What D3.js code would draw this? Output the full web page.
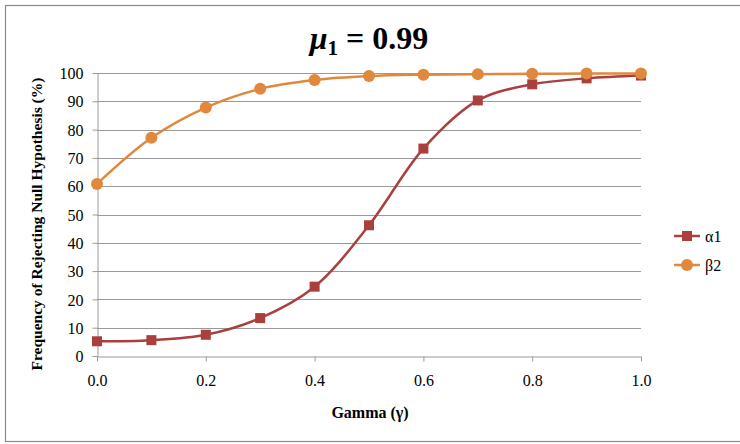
<!DOCTYPE html>
<html>
<head>
<meta charset="utf-8">
<script src="https://cdn.jsdelivr.net/npm/d3@7"></script>
<style>
  body { margin: 0; background: #fff; }
  svg { display: block; }
  svg text { font-family: 'Liberation Serif', 'DejaVu Serif', serif; }
</style>
</head>
<body>
<div id="chart"></div>
<script>
// data
var gamma = [ 0.0, 0.1, 0.2, 0.3, 0.4, 0.5, 0.6, 0.7, 0.8, 0.9, 1.0 ];
var alpha1 = [ 5.2, 5.6, 7.5, 13.4, 24.5, 46.2, 73.3, 90.3, 96.0, 98.1, 99.1 ];
var beta2 = [ 60.8, 77.1, 87.8, 94.4, 97.5, 98.9, 99.4, 99.6, 99.7, 99.8, 99.8 ];
var xTicks = [ 0, 0.2, 0.4, 0.6, 0.8, 1.0 ];
var yTicks = [ 0, 10, 20, 30, 40, 50, 60, 70, 80, 90, 100 ];

var W = 740, H = 444;
var svg = d3.select( '#chart' ).append( 'svg' )
	.attr( 'width', W )
	.attr( 'height', H );

// outer frame
svg.append( 'rect' )
	.attr( 'x', 5.5 ).attr( 'y', 5.5 )
	.attr( 'width', W + 10 ).attr( 'height', H - 8 )
	.attr( 'fill', 'none' )
	.attr( 'stroke', '#8c8c8c' )
	.attr( 'stroke-width', 1.2 );

var xScale = d3.scaleLinear().domain( [ 0, 1 ] ).range( [ 97, 641 ] );
var yScale = d3.scaleLinear().domain( [ 0, 100 ] ).range( [ 356, 73 ] );

// gridlines
svg.append( 'g' )
	.selectAll( 'line' )
	.data( yTicks.slice( 1 ) )
	.enter()
	.append( 'line' )
	.attr( 'x1', xScale( 0 ) ).attr( 'x2', xScale( 1 ) )
	.attr( 'y1', d => Math.round( yScale( d ) ) + 0.5 )
	.attr( 'y2', d => Math.round( yScale( d ) ) + 0.5 )
	.attr( 'stroke', '#9a9a9a' )
	.attr( 'stroke-width', 1 );

// axes
var xAxis = d3.axisBottom( xScale )
	.tickValues( xTicks )
	.tickSize( 5 )
	.tickSizeOuter( 0 )
	.tickPadding( 13 )
	.tickFormat( d3.format( '.1f' ) );

var yAxis = d3.axisLeft( yScale )
	.tickValues( yTicks )
	.tickSize( 5 )
	.tickSizeOuter( 0 )
	.tickPadding( 9 );

var gx = svg.append( 'g' )
	.attr( 'transform', 'translate(0,' + ( Math.round( yScale( 0 ) ) + 0.5 ) + ')' )
	.call( xAxis );

var gy = svg.append( 'g' )
	.attr( 'transform', 'translate(' + ( Math.round( xScale( 0 ) ) + 0.5 ) + ',0)' )
	.call( yAxis );

[ gx, gy ].forEach( function( g ) {
	g.attr( 'font-family', null );
	g.select( '.domain' ).attr( 'stroke', '#9a9a9a' );
	g.selectAll( '.tick line' ).attr( 'stroke', '#9a9a9a' );
	g.selectAll( '.tick text' )
		.attr( 'fill', '#000' )
		.attr( 'font-size', '16px' );
} );
gy.selectAll( '.tick text' ).attr( 'dy', '0.35em' );

// series
var series = [
	{ name: 'α1', values: alpha1, color: '#a9403e', shape: 'square' },
	{ name: 'β2', values: beta2, color: '#e0883c', shape: 'circle' }
];

var line = d3.line()
	.x( ( d, i ) => xScale( gamma[ i ] ) )
	.y( d => yScale( d ) )
	.curve( d3.curveCatmullRom.alpha( 0.5 ) );

series.forEach( function( s ) {
	svg.append( 'path' )
		.attr( 'd', line( s.values ) )
		.attr( 'fill', 'none' )
		.attr( 'stroke', s.color )
		.attr( 'stroke-width', 2.5 );

	if ( s.shape === 'square' ) {
		svg.append( 'g' ).selectAll( 'rect' )
			.data( s.values )
			.enter()
			.append( 'rect' )
			.attr( 'x', ( d, i ) => xScale( gamma[ i ] ) - 5 )
			.attr( 'y', d => yScale( d ) - 5 )
			.attr( 'width', 10 ).attr( 'height', 10 )
			.attr( 'fill', s.color );
	} else {
		svg.append( 'g' ).selectAll( 'circle' )
			.data( s.values )
			.enter()
			.append( 'circle' )
			.attr( 'cx', ( d, i ) => xScale( gamma[ i ] ) )
			.attr( 'cy', d => yScale( d ) )
			.attr( 'r', 6 )
			.attr( 'fill', s.color );
	}
} );

// legend
var legend = svg.append( 'g' ).attr( 'transform', 'translate(674,236)' );
series.forEach( function( s, i ) {
	var g = legend.append( 'g' ).attr( 'transform', 'translate(0,' + ( i * 29 ) + ')' );
	g.append( 'line' )
		.attr( 'x1', 0 ).attr( 'x2', 26 )
		.attr( 'y1', 0 ).attr( 'y2', 0 )
		.attr( 'stroke', s.color )
		.attr( 'stroke-width', 2.5 );
	if ( s.shape === 'square' ) {
		g.append( 'rect' )
			.attr( 'x', 8 ).attr( 'y', -5 )
			.attr( 'width', 10 ).attr( 'height', 10 )
			.attr( 'fill', s.color );
	} else {
		g.append( 'circle' )
			.attr( 'cx', 13 ).attr( 'cy', 0 ).attr( 'r', 6 )
			.attr( 'fill', s.color );
	}
	g.append( 'text' )
		.attr( 'x', 31 ).attr( 'y', 0 )
		.attr( 'dy', '0.35em' )
		.attr( 'font-size', '16px' )
		.text( s.name );
} );

// title
var title = svg.append( 'text' )
	.attr( 'x', 369 ).attr( 'y', 49 )
	.attr( 'text-anchor', 'middle' )
	.attr( 'font-size', '32px' )
	.attr( 'font-weight', 'bold' );
title.append( 'tspan' ).attr( 'font-style', 'italic' ).text( 'μ' );
title.append( 'tspan' ).attr( 'font-size', '21px' ).attr( 'dy', 6 ).text( '1' );
title.append( 'tspan' ).attr( 'dy', -6 ).text( ' = 0.99' );

// axis titles
svg.append( 'text' )
	.attr( 'x', 370 ).attr( 'y', 418 )
	.attr( 'text-anchor', 'middle' )
	.attr( 'font-size', '16px' )
	.attr( 'font-weight', 'bold' )
	.text( 'Gamma (γ)' );

svg.append( 'text' )
	.attr( 'transform', 'translate(42,224) rotate(-90)' )
	.attr( 'text-anchor', 'middle' )
	.attr( 'font-size', '15.5px' )
	.attr( 'font-weight', 'bold' )
	.text( 'Frequency of Rejecting Null Hypothesis (%)' );
</script>
</body>
</html>
